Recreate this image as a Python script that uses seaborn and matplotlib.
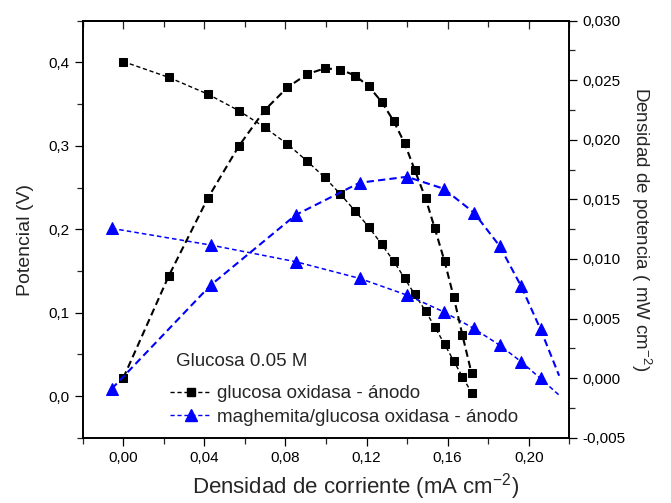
import matplotlib
matplotlib.use("Agg")
import matplotlib.pyplot as plt
import seaborn as sns
from matplotlib.ticker import MultipleLocator, FuncFormatter
from matplotlib.lines import Line2D

# ---- data ----
j_gox = [0.000, 0.0225, 0.0417, 0.0571, 0.0698, 0.0810, 0.0905, 0.0994, 0.1071, 0.1143, 0.1210,
         0.1274, 0.1333, 0.1388, 0.1437, 0.1491, 0.1536, 0.1585, 0.1630, 0.1673, 0.1718]
v_gox = [0.401, 0.382, 0.362, 0.342, 0.322, 0.302, 0.282, 0.262, 0.242, 0.222, 0.203,
         0.182, 0.162, 0.141, 0.122, 0.102, 0.083, 0.062, 0.042, 0.023, 0.004]
p_gox = [0.0000, 0.0086, 0.0151, 0.0195, 0.0225, 0.0244, 0.0255, 0.0260, 0.0259, 0.0254, 0.0245,
         0.0232, 0.0216, 0.0197, 0.0175, 0.0151, 0.0126, 0.0098, 0.0068, 0.0036, 0.0004]
j_mag = [-0.0057, 0.0431, 0.0851, 0.1166, 0.1399, 0.1580, 0.1729, 0.1856, 0.1963, 0.2058, 0.2150]
v_mag = [0.201, 0.181, 0.161, 0.141, 0.121, 0.101, 0.081, 0.061, 0.041, 0.021, 0.001]
p_mag = [-0.0009, 0.0078, 0.0137, 0.0164, 0.0169, 0.0159, 0.0139, 0.0111, 0.0077, 0.0041, 0.0002]

labels = ["glucosa oxidasa - ánodo", "maghemita/glucosa oxidasa - ánodo"]
legend_title = "Glucosa 0.05 M"

sns.set_style("ticks")
plt.rcParams["font.family"] = ["Liberation Sans", "DejaVu Sans"]
plt.rcParams["mathtext.fontset"] = "custom"
plt.rcParams["mathtext.rm"] = "Liberation Sans"
plt.rcParams["mathtext.it"] = "Liberation Sans:italic"

fig = plt.figure(figsize=(6.71, 5.03), dpi=100)
ax = fig.add_axes([82.7 / 671, 1 - 437.7 / 503, (569.3 - 82.7) / 671, (437.7 - 20.7) / 503])
ax2 = ax.twinx()

BLUE = "#0000FF"
short = (0, (3, 2))
longd = (0, (3.5, 2))

sns.lineplot(x=j_gox, y=v_gox, ax=ax, sort=False, estimator=None, color="black",
             marker="s", markersize=6, markeredgecolor="black", lw=1.0, linestyle=short)
sns.lineplot(x=j_mag, y=v_mag, ax=ax, sort=False, estimator=None, color=BLUE,
             marker="^", markersize=8, markeredgecolor=BLUE, lw=1.1, linestyle=short,
             markevery=list(range(len(j_mag) - 1)))
sns.lineplot(x=j_gox, y=p_gox, ax=ax2, sort=False, estimator=None, color="black",
             marker="s", markersize=6, markeredgecolor="black", lw=1.5, linestyle=longd)
sns.lineplot(x=j_mag, y=p_mag, ax=ax2, sort=False, estimator=None, color=BLUE,
             marker="^", markersize=8, markeredgecolor=BLUE, lw=1.5, linestyle=longd,
             markevery=list(range(len(j_mag) - 1)))

ax.set_xlim(-0.02, 0.22)
ax.set_ylim(-0.05, 0.45)
ax2.set_ylim(-0.005, 0.030)

ax.xaxis.set_major_locator(MultipleLocator(0.04))
ax.xaxis.set_minor_locator(MultipleLocator(0.02))
ax.yaxis.set_major_locator(MultipleLocator(0.1))
ax.yaxis.set_minor_locator(MultipleLocator(0.05))
ax2.yaxis.set_major_locator(MultipleLocator(0.005))
ax2.yaxis.set_minor_locator(MultipleLocator(0.0025))

ax.xaxis.set_major_formatter(FuncFormatter(lambda v, p: f"{v:.2f}".replace(".", ",").replace("-0,00", "0,00")))
ax.yaxis.set_major_formatter(FuncFormatter(lambda v, p: f"{v:.1f}".replace(".", ",").replace("-0,0", "0,0")))
ax2.yaxis.set_major_formatter(FuncFormatter(lambda v, p: ("0,000" if abs(v) < 1e-9 else f"{v:.3f}".replace(".", ","))))

for a in (ax, ax2):
    for s in a.spines.values():
        s.set_linewidth(1.2)
        s.set_color("black")
ax.tick_params(axis="both", which="major", direction="out", length=6, width=0.9, labelsize=11, colors="black")
ax.tick_params(axis="both", which="minor", direction="out", length=4, width=0.9)
ax2.tick_params(axis="y", which="major", direction="out", length=6, width=0.9, labelsize=11, colors="black")
ax2.tick_params(axis="y", which="minor", direction="out", length=4, width=0.9)

sec = ax.secondary_xaxis("top")
sec.xaxis.set_major_locator(MultipleLocator(0.04))
sec.xaxis.set_minor_locator(MultipleLocator(0.02))
sec.tick_params(axis="x", which="major", direction="in", length=6, width=0.9, labeltop=False)
sec.tick_params(axis="x", which="minor", direction="in", length=4, width=0.9)
sec.spines["top"].set_linewidth(1.2)

ax.set_xlabel("Densidad de corriente (mA cm$^{-2}$)", fontsize=16)
ax.xaxis.set_label_coords((356 - 82.7) / 486.6, (437.7 - 487) / 417)
ax.xaxis.label.set_va("center")
ax.set_ylabel("Potencial (V)", fontsize=14)
ax.yaxis.set_label_coords((25 - 82.7) / 486.6, (437.7 - 240) / 417)
ax.yaxis.label.set_va("center")
ax2.set_ylabel("Densidad de potencia ( mW cm$^{-2}$)", fontsize=13.5, rotation=270, labelpad=20)

fig.text(176 / 671, 1 - 362 / 503, legend_title, fontsize=13.5, ha="left", va="center")
handles = [
    Line2D([], [], color="black", marker="s", markersize=6, lw=1.0, linestyle=short),
    Line2D([], [], color=BLUE, marker="^", markersize=8, lw=1.0, linestyle=short),
]
leg = ax2.legend(handles, labels, loc="upper left",
                 bbox_to_anchor=(170 / 671, 1 - 385 / 503), bbox_transform=fig.transFigure,
                 frameon=False, fontsize=13.5, borderpad=0, borderaxespad=0,
                 handlelength=2.2, handletextpad=0.3, labelspacing=0.35)

fig.savefig("out.png", dpi=100)
